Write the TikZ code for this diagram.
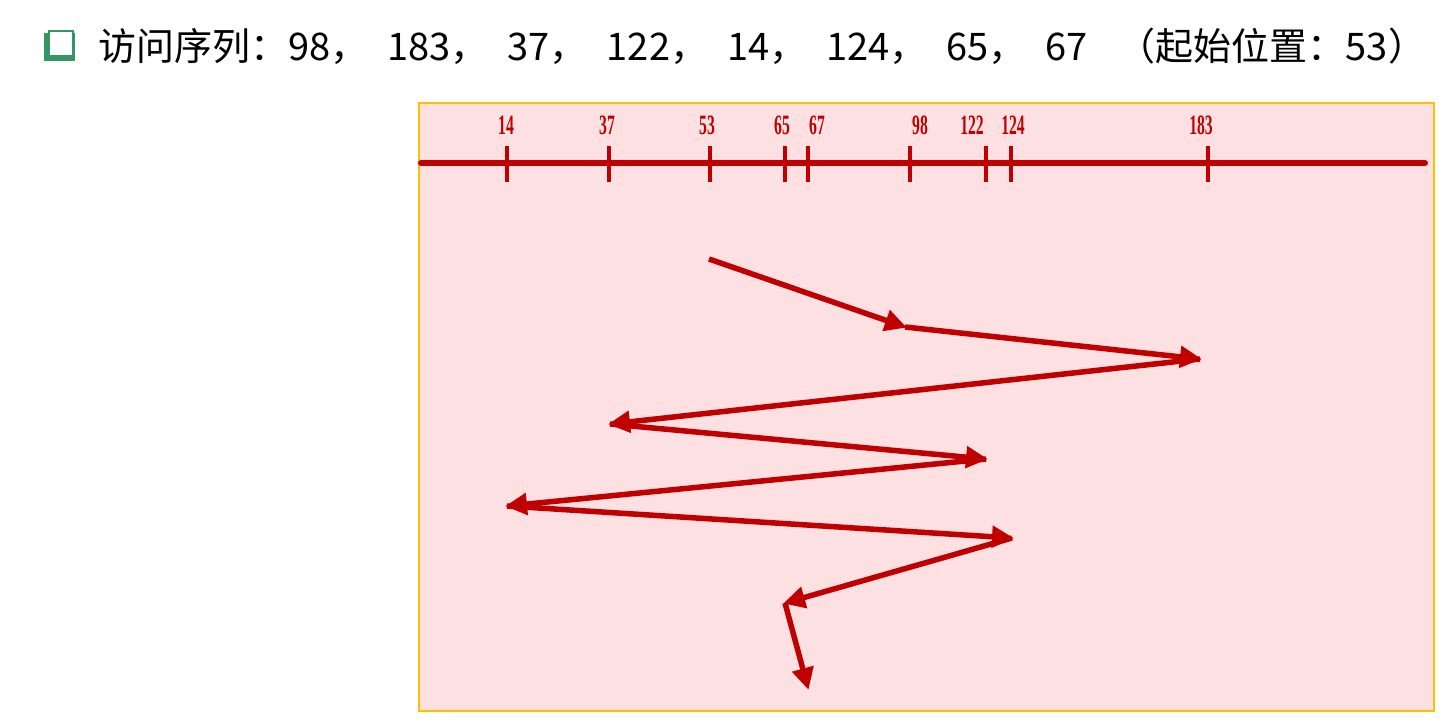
\documentclass[tikz,border=0pt]{standalone}
\usepackage{fontspec}
\setmainfont{Liberation Serif}
\newfontfamily\cjkfont{Noto Sans CJK SC}
\usetikzlibrary{arrows.meta}

\definecolor{diskred}{RGB}{192,0,0}
\definecolor{boxpink}{RGB}{253,224,225}
\definecolor{boxedge}{RGB}{255,192,0}
\definecolor{bulletgreen}{RGB}{52,150,100}

\newcommand{\ticklab}[1]{\scalebox{0.56}[1]{\bfseries #1}}
\newcommand{\gapc}{，\hspace{19pt}}

\begin{document}
\begin{tikzpicture}[x=1pt, y=-1pt,
    tick/.style={draw=diskred, line width=3.5pt},
    lab/.style={text=diskred, font=\fontsize{28}{28}\selectfont, inner sep=0pt},
    seek/.style={draw=diskred, line width=5.5pt,
      -{Triangle[length=22pt, width=21pt]}, shorten >=-2pt}
    ]
    \useasboundingbox (0,0) rectangle (1446,727);

    % title line
    \fill[bulletgreen] (44,33) rectangle (75,61);
    \fill[white] (49,31) rectangle (73,56);
    \draw[bulletgreen, line width=1.5pt] (49,31) rectangle (73,56);
    \node[anchor=west, inner sep=0pt, font=\cjkfont\fontsize{38}{38}\selectfont] (title) at (98,46)
      {访问序列：98\gapc 183\gapc 37\gapc 122\gapc 14\gapc 124\gapc 65\gapc 67\hspace{30pt}（起始位置：53）};

    % disk box and axis
    \draw[boxedge, fill=boxpink, line width=2pt] (419,103) rectangle (1434,711);
    \draw[diskred, line width=6pt, line cap=round] (421,163) -- (1425,163);
    \foreach \cyl/\xp/\xl in {14/507/506, 37/609/607, 53/710/707, 65/785/782, 67/808/817,
        98/910/920, 122/986/972, 124/1011/1013, 183/1208/1201} {
      \draw[tick] (\xp,146) -- (\xp,182);
      \node[lab] (l\cyl) at (\xl,125) {\ticklab{\cyl}};
    }

    % visiting points
    \coordinate (p53)  at (709,259);
    \coordinate (p98)  at (905,327);
    \coordinate (p183) at (1200,359);
    \coordinate (p37)  at (610,424);
    \coordinate (p122) at (986,459);
    \coordinate (p14)  at (507,506);
    \coordinate (p124) at (1012,538);
    \coordinate (p65)  at (785,603);
    \coordinate (p67)  at (808,688);

    \draw[seek] (p53) -- (p98);
    \draw[seek] (p98) -- (p183);
    \draw[seek] (p183) -- (p37);
    \draw[seek] (p37) -- (p122);
    \draw[seek] (p122) -- (p14);
    \draw[seek] (p14) -- (p124);
    \draw[seek] (p124) -- (p65);
    \draw[seek] (p65) -- (p67);
\end{tikzpicture}
\end{document}
